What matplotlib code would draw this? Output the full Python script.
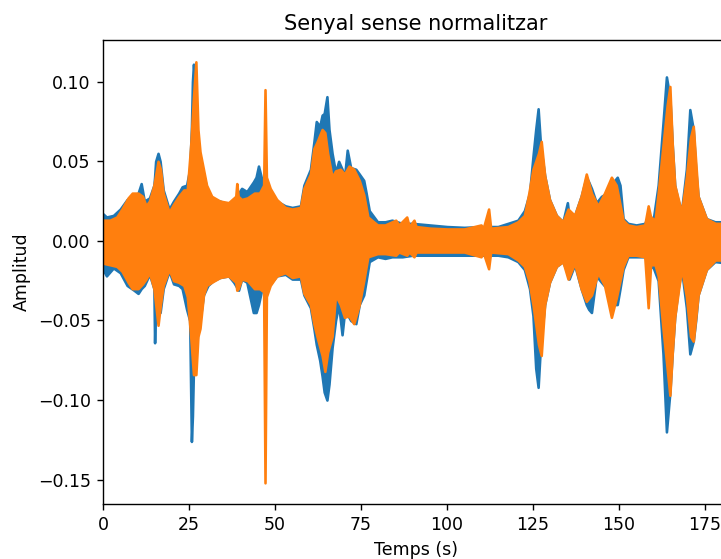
import matplotlib
matplotlib.use("Agg")
import matplotlib.pyplot as plt

# envelope of each channel: time (s), upper, lower
t_ch1 = [0, 1, 3, 5, 7, 9, 10.2, 11.1, 12, 13.5, 14.8, 15.0, 15.3, 16.0, 16.6, 17.5,
         19.2, 20.5, 22, 23, 24.3, 25.2, 25.7, 26.0, 26.3, 26.8, 27.6, 28.5, 29.2, 30.5,
         32, 34, 36.5, 38, 39.4, 40.3, 41.8, 43.7, 44.5, 45.2, 46, 47.1, 48.6, 50.5,
         53, 55, 57.4, 58.4, 60.3, 61.3, 62, 63, 63.7, 64.3, 65.1, 65.7, 66.6, 67.6,
         68.5, 69.5, 70.2, 71, 72, 73.5, 74.5, 75.8, 76.5, 77.4, 79.8, 82, 84, 87, 90,
         95, 100, 105, 110, 114.8, 117.7, 120.6, 122.5, 124.0, 125, 125.8, 126.5, 127.2,
         128.4, 129.8, 131.8, 133.7, 135.0, 135.5, 137.1, 139, 140.5, 141.2, 142, 143.4,
         144.9, 146.5, 148, 149.5, 150.3, 151.2, 152.6, 155, 157.5, 158.5, 160, 161.4,
         162.8, 163.8, 164.8, 165.5, 166.2, 167.2, 168.2, 169.6, 170.6, 171.6, 172.3,
         173, 175.4, 177.9, 181.7]
up_ch1 = [0.017, 0.015, 0.016, 0.020, 0.026, 0.028, 0.030, 0.036, 0.025, 0.027, 0.035,
          0.040, 0.050, 0.055, 0.050, 0.032, 0.020, 0.025, 0.030, 0.034, 0.035, 0.045,
          0.070, 0.100, 0.111, 0.095, 0.060, 0.050, 0.042, 0.030, 0.026, 0.025, 0.023,
          0.026, 0.030, 0.033, 0.031, 0.037, 0.040, 0.047, 0.040, 0.036, 0.030, 0.025,
          0.022, 0.021, 0.022, 0.035, 0.045, 0.062, 0.075, 0.072, 0.079, 0.080, 0.0906,
          0.070, 0.055, 0.043, 0.050, 0.045, 0.040, 0.057, 0.046, 0.045, 0.042, 0.038,
          0.030, 0.019, 0.012, 0.012, 0.013, 0.011, 0.011, 0.010, 0.009, 0.0085, 0.009,
          0.009, 0.011, 0.013, 0.019, 0.030, 0.053, 0.070, 0.083, 0.060, 0.041, 0.026,
          0.016, 0.012, 0.024, 0.015, 0.016, 0.028, 0.040, 0.037, 0.033, 0.024, 0.028,
          0.030, 0.036, 0.040, 0.035, 0.014, 0.011, 0.010, 0.011, 0.016, 0.014, 0.035,
          0.074, 0.103, 0.090, 0.060, 0.035, 0.025, 0.019, 0.045, 0.0825, 0.070, 0.045,
          0.028, 0.014, 0.012, 0.012]
low_ch1 = [-0.018, -0.022, -0.017, -0.020, -0.028, -0.031, -0.033, -0.030, -0.028,
           -0.021, -0.030, -0.064, -0.035, -0.040, -0.045, -0.030, -0.019, -0.027,
           -0.028, -0.030, -0.043, -0.050, -0.126, -0.110, -0.080, -0.080, -0.055,
           -0.045, -0.034, -0.028, -0.025, -0.023, -0.022, -0.026, -0.031, -0.024,
           -0.026, -0.045, -0.045, -0.040, -0.032, -0.030, -0.027, -0.022, -0.021,
           -0.024, -0.024, -0.034, -0.042, -0.055, -0.065, -0.075, -0.085, -0.095,
           -0.100, -0.090, -0.067, -0.050, -0.040, -0.059, -0.045, -0.046, -0.050,
           -0.052, -0.040, -0.034, -0.025, -0.013, -0.010, -0.011, -0.010, -0.010,
           -0.009, -0.009, -0.009, -0.009, -0.009, -0.009, -0.010, -0.013, -0.018,
           -0.030, -0.047, -0.080, -0.092, -0.065, -0.040, -0.026, -0.016, -0.013,
           -0.020, -0.024, -0.015, -0.030, -0.040, -0.043, -0.045, -0.022, -0.026,
           -0.030, -0.040, -0.040, -0.030, -0.018, -0.010, -0.010, -0.010, -0.015,
           -0.017, -0.025, -0.071, -0.120, -0.095, -0.070, -0.048, -0.030, -0.018,
           -0.042, -0.071, -0.063, -0.050, -0.034, -0.018, -0.013, -0.014]

t_ch2 = [0, 2, 4, 5.5, 7.3, 8.5, 10.2, 11.5, 12.5, 13.5, 14.8, 16.0, 16.7, 17.5, 19.2,
         20.5, 22, 23.5, 24.5, 25.5, 26.3, 27.0, 27.6, 28.2, 29.2, 30.1, 31.6, 34, 36.5,
         38.6, 38.9, 39.3, 40.3, 42, 44, 45.5, 46.7, 47.1, 47.5, 48.6, 50.5, 53, 55, 57.4,
         58.4, 60.3, 61.3, 62.2, 63.7, 64.5, 65.3, 66.6, 67.6, 69, 70.2, 71.5, 72.9, 74.5,
         75.8, 77, 79.8, 82, 85.1, 86, 88.3, 89, 90.4, 91, 95, 100, 105, 109.9, 110.5,
         112.1, 112.7, 117.7, 120.6, 122.5, 123.8, 125, 126.6, 127.4, 128.4, 129.8,
         131.8, 133.7, 135.2, 137.1, 139, 140.5, 142, 143.9, 145.8, 147.8, 149.2, 151.2,
         152.6, 155, 157.5, 158.5, 159.2, 160.5, 161.4, 162.8, 164.0, 164.8, 165.5,
         166.2, 168.2, 169.6, 170.8, 171.6, 173, 175.4, 178, 181.7]
up_ch2 = [0.013, 0.013, 0.015, 0.020, 0.027, 0.030, 0.030, 0.028, 0.022, 0.025, 0.035,
          0.050, 0.045, 0.030, 0.018, 0.023, 0.028, 0.032, 0.032, 0.060, 0.090, 0.1125,
          0.070, 0.056, 0.045, 0.035, 0.028, 0.025, 0.024, 0.028, 0.036, 0.028, 0.026,
          0.027, 0.030, 0.030, 0.035, 0.095, 0.040, 0.033, 0.026, 0.021, 0.020, 0.021,
          0.033, 0.042, 0.058, 0.062, 0.070, 0.068, 0.055, 0.040, 0.044, 0.045, 0.042,
          0.047, 0.045, 0.038, 0.029, 0.015, 0.010, 0.010, 0.013, 0.010, 0.015, 0.009,
          0.013, 0.009, 0.008, 0.0075, 0.0075, 0.010, 0.0075, 0.020, 0.008, 0.009, 0.012,
          0.016, 0.030, 0.045, 0.055, 0.0625, 0.041, 0.026, 0.016, 0.012, 0.020, 0.016,
          0.028, 0.042, 0.030, 0.022, 0.030, 0.040, 0.035, 0.013, 0.010, 0.009, 0.010,
          0.022, 0.015, 0.013, 0.030, 0.060, 0.085, 0.097, 0.060, 0.035, 0.018, 0.040,
          0.065, 0.072, 0.028, 0.014, 0.011, 0.011]
low_ch2 = [-0.014, -0.015, -0.016, -0.019, -0.026, -0.030, -0.030, -0.027, -0.024,
           -0.020, -0.030, -0.053, -0.040, -0.028, -0.018, -0.025, -0.026, -0.028,
           -0.035, -0.060, -0.084, -0.084, -0.060, -0.055, -0.034, -0.028, -0.026,
           -0.023, -0.022, -0.026, -0.031, -0.030, -0.024, -0.025, -0.030, -0.030,
           -0.032, -0.152, -0.035, -0.028, -0.022, -0.020, -0.023, -0.022, -0.033,
           -0.040, -0.052, -0.060, -0.072, -0.082, -0.070, -0.060, -0.034, -0.040,
           -0.048, -0.047, -0.052, -0.040, -0.025, -0.010, -0.008, -0.008, -0.009,
           -0.007, -0.009, -0.007, -0.010, -0.007, -0.007, -0.007, -0.007, -0.010,
           -0.007, -0.0175, -0.007, -0.008, -0.012, -0.016, -0.025, -0.040, -0.065,
           -0.072, -0.040, -0.026, -0.016, -0.013, -0.024, -0.014, -0.030, -0.038,
           -0.034, -0.020, -0.028, -0.048, -0.036, -0.016, -0.009, -0.009, -0.010,
           -0.042, -0.015, -0.015, -0.022, -0.055, -0.080, -0.097, -0.070, -0.048,
           -0.017, -0.035, -0.060, -0.063, -0.034, -0.018, -0.012, -0.012]

# the reference was rendered at a higher dpi (bigger text and lines)
DPI = 125
fig = plt.figure(figsize=(721 / DPI, 559 / DPI), dpi=DPI)
ax = fig.add_axes([103 / 721, 55 / 559, 625 / 721, 464 / 559])

ax.fill_between(t_ch1, low_ch1, up_ch1, color="C0", lw=1.5, edgecolor="C0")
ax.fill_between(t_ch2, low_ch2, up_ch2, color="C1", lw=1.5, edgecolor="C1")

ax.set_xlim(0, 181.7)
ax.set_ylim(-0.1653, 0.1262)
ax.set_xticks([0, 25, 50, 75, 100, 125, 150, 175])
ax.set_yticks([-0.15, -0.10, -0.05, 0.00, 0.05, 0.10])
ax.set_title("Senyal sense normalitzar")
ax.set_xlabel("Temps (s)")
ax.set_ylabel("Amplitud")

fig.savefig("out.png", dpi=DPI)
